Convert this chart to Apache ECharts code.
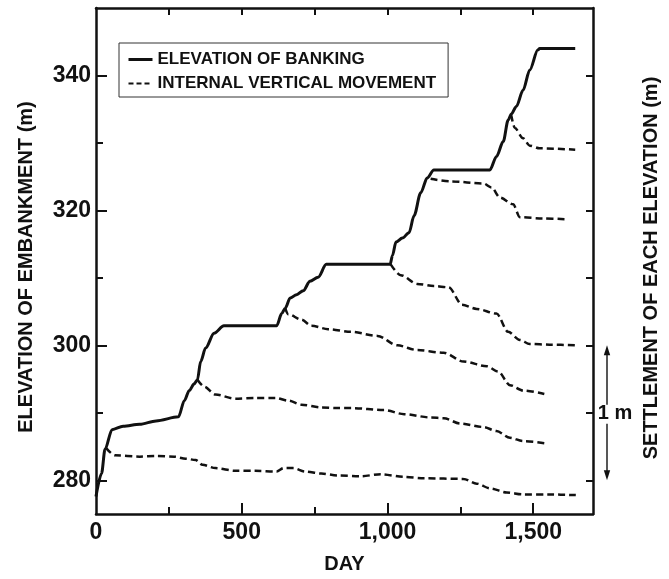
<!DOCTYPE html>
<html>
<head>
<meta charset="utf-8">
<script src="https://cdn.jsdelivr.net/npm/echarts@6/dist/echarts.min.js"></script>
<style>
  html, body { margin: 0; padding: 0; background: #fff; }
  #chart { width: 669px; height: 579px; }
</style>
</head>
<body>
<div id="chart"></div>
<script>
// Embankment crest elevation over time, [day, elevation m]
const bankingElevation = [
  [0, 277.6], [19, 281.0], [31, 284.6], [55, 287.5], [93, 288.0], [150, 288.3],
  [206, 288.8], [283, 289.4], [303, 291.8], [320, 293.3], [337, 294.3], [348, 294.9],
  [359, 297.6], [376, 299.6], [405, 301.8], [439, 302.9], [620, 302.9], [637, 304.7],
  [649, 305.5], [666, 307.0], [688, 307.5], [711, 308.1], [734, 309.5], [762, 310.1],
  [790, 312.0], [1009, 312.0], [1017, 313.3], [1029, 315.3], [1051, 315.9], [1074, 316.7],
  [1091, 319.2], [1114, 322.6], [1136, 324.8], [1159, 326.0], [1351, 326.0], [1374, 328.0],
  [1397, 330.2], [1414, 333.4], [1425, 334.3], [1442, 335.4], [1465, 337.8], [1488, 340.8],
  [1516, 343.8], [1522, 344.0], [1644, 344.0]
];

// Internal vertical movement of gauges installed at successive lifts
const movementGauge1 = [
  [34, 284.8], [65, 283.7], [150, 283.5], [206, 283.6], [269, 283.5], [308, 283.2],
  [342, 283.0], [365, 282.3], [410, 281.8], [478, 281.4], [546, 281.4], [620, 281.3],
  [643, 281.8], [677, 281.8], [717, 281.3], [773, 281.0], [830, 280.7], [909, 280.6],
  [977, 280.9], [1057, 280.5], [1125, 280.3], [1261, 280.2], [1306, 279.5], [1352, 278.8],
  [1409, 278.2], [1465, 277.9], [1556, 277.9], [1646, 277.8]
];
const movementGauge2 = [
  [348, 294.9], [371, 293.9], [410, 292.7], [478, 292.1], [546, 292.2], [615, 292.2],
  [660, 291.8], [705, 291.2], [773, 290.8], [830, 290.7], [875, 290.7], [989, 290.4],
  [1057, 289.8], [1148, 289.3], [1193, 289.2], [1250, 288.4], [1329, 287.9], [1374, 287.3],
  [1420, 286.3], [1465, 285.8], [1538, 285.5]
];
const movementGauge3 = [
  [649, 305.5], [660, 304.6], [705, 303.8], [739, 302.9], [796, 302.4], [875, 302.0],
  [966, 301.4], [1034, 300.0], [1102, 299.3], [1193, 298.9], [1261, 297.6], [1341, 296.9],
  [1380, 296.1], [1420, 294.1], [1465, 293.3], [1538, 292.8]
];
const movementGauge4 = [
  [1011, 312.0], [1045, 310.4], [1102, 309.1], [1159, 308.8], [1210, 308.6], [1256, 306.0],
  [1306, 305.4], [1374, 304.7], [1414, 302.0], [1454, 300.8], [1488, 300.2], [1556, 300.1],
  [1646, 300.0]
];
const movementGauge5 = [
  [1148, 324.7], [1216, 324.3], [1329, 324.0], [1357, 323.4], [1386, 321.9], [1431, 320.9],
  [1454, 319.0], [1533, 318.8], [1610, 318.7]
];
const movementGauge6 = [
  [1424, 334.2], [1437, 332.2], [1465, 330.7], [1488, 329.6], [1522, 329.2], [1644, 329.0]
];

// Axis ticks and labels
const dayLabels = [0, 500, 1000, 1500];
const dayMinorTicks = [250, 750, 1250];
const dayAllTicks = [250, 500, 750, 1000, 1250, 1500];
const elevLabels = [280, 300, 320, 340];
const elevMinorTicks = [290, 310, 330];
const elevAllTicks = [280, 290, 300, 310, 320, 330, 340];
// Settlement scale bar: 1 m spans this elevation interval
const settlementBar = [280, 300];
const settlementBarText = '1 m';

const FONT = '"Liberation Sans", Arial, Helvetica, sans-serif';
const INK = '#111';

const chart = echarts.init(document.getElementById('chart'), null, { renderer: 'canvas' });

const dashStyle = { color: INK, width: 2.5, type: [7, 4] };
const movementSeries = [movementGauge1, movementGauge2, movementGauge3,
  movementGauge4, movementGauge5, movementGauge6].map(d => ({
  name: 'INTERNAL VERTICAL MOVEMENT',
  type: 'line',
  data: d,
  symbol: 'none',
  smooth: 0.3,
  smoothMonotone: 'x',
  color: INK,
  itemStyle: { color: INK },
  lineStyle: dashStyle,
  z: 2
}));

const tickLine = { color: INK, width: 2 };

chart.setOption({
  animation: false,
  backgroundColor: '#fff',
  color: [INK],
  textStyle: { fontFamily: FONT, color: INK },
  grid: { left: 96, right: 71, top: 8, bottom: 61, containLabel: false },
  legend: {
    left: 119, top: 43,
    orient: 'vertical',
    padding: [8, 12, 5, 8],
    itemGap: 7,
    itemWidth: 24,
    itemHeight: 14,
    borderColor: '#333',
    borderWidth: 1,
    backgroundColor: '#fff',
    itemStyle: { opacity: 0 },
    textStyle: { fontFamily: FONT, fontSize: 17, fontWeight: 'bold', color: INK },
    data: [
      { name: 'ELEVATION OF BANKING', lineStyle: { color: INK, width: 3, type: 'solid' } },
      { name: 'INTERNAL VERTICAL MOVEMENT', lineStyle: { color: INK, width: 2, type: [5, 3] } }
    ]
  },
  xAxis: [
    {
      type: 'value', position: 'bottom', min: 0, max: 1705,
      axisLine: { show: true, onZero: false, lineStyle: { color: INK, width: 2.5 } },
      axisTick: { show: true, inside: true, length: 11, customValues: dayLabels.slice(1), lineStyle: tickLine },
      axisLabel: {
        customValues: dayLabels, margin: 7,
        fontFamily: FONT, fontSize: 23, fontWeight: 'bold', color: INK,
        formatter: v => Number(v).toLocaleString('en-US')
      },
      splitLine: { show: false },
      name: 'DAY', nameLocation: 'middle', nameGap: 40,
      nameTextStyle: { fontFamily: FONT, fontSize: 20, fontWeight: 'bold', color: INK }
    },
    {
      type: 'value', position: 'bottom', min: 0, max: 1705, offset: 0,
      axisLine: { show: false, onZero: false },
      axisTick: { show: true, inside: true, length: 7, customValues: dayMinorTicks, lineStyle: tickLine },
      axisLabel: { show: false },
      splitLine: { show: false }
    },
    {
      type: 'value', position: 'top', min: 0, max: 1705,
      axisLine: { show: true, onZero: false, lineStyle: { color: INK, width: 2.5 } },
      axisTick: { show: true, inside: true, length: 7, customValues: dayAllTicks, lineStyle: tickLine },
      axisLabel: { show: false },
      splitLine: { show: false }
    }
  ],
  yAxis: [
    {
      type: 'value', position: 'left', min: 275, max: 350,
      axisLine: { show: true, onZero: false, lineStyle: { color: INK, width: 2.5 } },
      axisTick: { show: true, inside: true, length: 11, customValues: elevLabels, lineStyle: tickLine },
      axisLabel: {
        customValues: elevLabels, margin: 5,
        fontFamily: FONT, fontSize: 23, fontWeight: 'bold', color: INK
      },
      splitLine: { show: false },
      name: 'ELEVATION OF EMBANKMENT (m)', nameLocation: 'middle', nameGap: 60, nameRotate: 90,
      nameTextStyle: { fontFamily: FONT, fontSize: 20, fontWeight: 'bold', color: INK, padding: [0, 12, 0, 0] }
    },
    {
      type: 'value', position: 'left', min: 275, max: 350, offset: 0,
      axisLine: { show: false, onZero: false },
      axisTick: { show: true, inside: true, length: 7, customValues: elevMinorTicks, lineStyle: tickLine },
      axisLabel: { show: false },
      splitLine: { show: false }
    },
    {
      type: 'value', position: 'right', min: 275, max: 350,
      axisLine: { show: true, onZero: false, lineStyle: { color: INK, width: 2.5 } },
      axisTick: { show: true, inside: true, length: 7, customValues: elevAllTicks, lineStyle: tickLine },
      axisLabel: { show: false },
      splitLine: { show: false },
      name: 'SETTLEMENT OF EACH ELEVATION (m)', nameLocation: 'middle', nameGap: 48, nameRotate: 90,
      nameTextStyle: { fontFamily: FONT, fontSize: 20, fontWeight: 'bold', color: INK, padding: [0, 14, 0, 0] }
    }
  ],
  series: [
    {
      name: 'ELEVATION OF BANKING',
      type: 'line',
      data: bankingElevation,
      symbol: 'none',
      smooth: 0.3,
      smoothMonotone: 'x',
      color: INK,
      itemStyle: { color: INK },
      lineStyle: { color: INK, width: 3 },
      z: 3
    }
  ].concat(movementSeries)
});

// Settlement scale bar drawn beside the right axis, positioned from the axis scale
function drawScaleBar() {
  const xRight = chart.convertToPixel({ xAxisIndex: 0 }, 1705);
  const yLow = chart.convertToPixel({ yAxisIndex: 2 }, settlementBar[0]);
  const yHigh = chart.convertToPixel({ yAxisIndex: 2 }, settlementBar[1]);
  const x = xRight + 14;
  const yMid = (yLow + yHigh) / 2;
  const head = 10, half = 3.2;
  chart.setOption({
    graphic: [
      { type: 'line', shape: { x1: x, y1: yHigh + head - 1, x2: x, y2: yMid - 8 }, style: { stroke: INK, lineWidth: 1.4 } },
      { type: 'line', shape: { x1: x, y1: yMid + 11, x2: x, y2: yLow - head + 1 }, style: { stroke: INK, lineWidth: 1.4 } },
      { type: 'polygon', shape: { points: [[x, yHigh], [x - half, yHigh + head], [x + half, yHigh + head]] }, style: { fill: INK } },
      { type: 'polygon', shape: { points: [[x, yLow], [x - half, yLow - head], [x + half, yLow - head]] }, style: { fill: INK } },
      {
        type: 'text', x: x + 8, y: yMid + 1,
        style: { text: settlementBarText, fill: INK, font: 'bold 20px ' + FONT, align: 'center', verticalAlign: 'middle' },
        z: 10
      }
    ]
  });
}
drawScaleBar();
</script>
</body>
</html>
